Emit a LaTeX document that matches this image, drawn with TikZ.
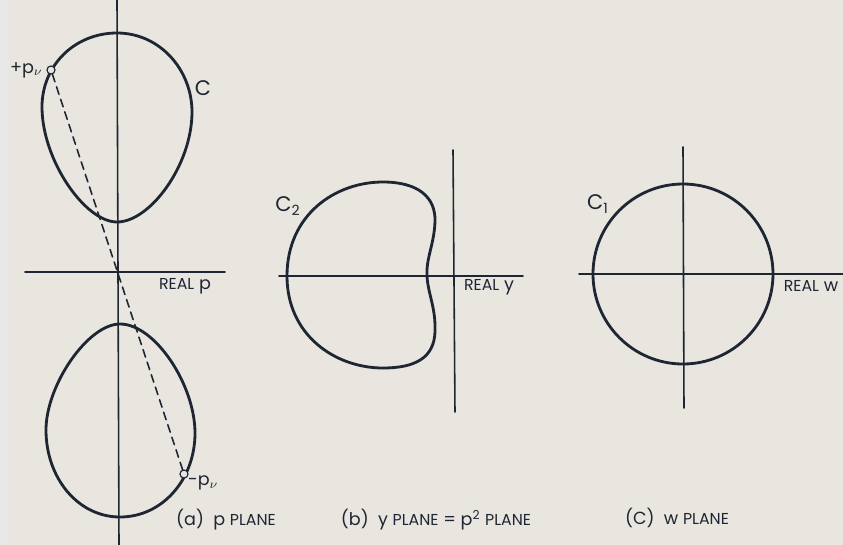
\documentclass[tikz,border=0pt]{standalone}
\usepackage{fontspec}
\setmainfont{Poppins}
\usetikzlibrary{positioning}
\definecolor{paper}{RGB}{233,230,223}
\definecolor{ink}{RGB}{30,38,52}
\tikzset{
  every picture/.append style={line cap=round,line join=round},
  plane axis/.style={ink,line width=0.9pt},
  plane curve/.style={ink,line width=1.6pt},
  plane chord/.style={ink,line width=0.9pt,dash pattern=on 4.5pt off 3pt},
  plane point/.style={circle,draw=ink,fill=paper,line width=0.6pt,inner sep=0pt,minimum size=4.5pt},
  plane note/.style={font=\normalsize,text=ink,inner sep=1pt},
  plane caption/.style={font=\normalsize,text=ink,inner sep=1pt}
}
\begin{document}
\begin{tikzpicture}[x=0.02cm, y=-0.02cm]
  \fill[paper] (0,0) rectangle (843,545);
  \fill[black!9] (0,0) rectangle (9,545);
  \useasboundingbox (0,0) rectangle (843,545);

  % (a) p plane
  \draw[plane axis] (117,0) -- (119,545);
  \draw[plane axis] (25,272) -- (225,272);
  \draw[plane curve] (117,33) .. controls (160,33) and (192,70) .. (192,112)
    .. controls (192,165) and (150,222) .. (117,222)
    .. controls (85,222) and (42,160) .. (42,107)
    .. controls (42,65) and (75,33) .. (117,33);
  \draw[plane curve] (120,324) .. controls (155,324) and (195,385) .. (195,433)
    .. controls (195,480) and (162,517) .. (120,517)
    .. controls (78,517) and (46,478) .. (46,430)
    .. controls (46,385) and (88,324) .. (120,324);
  \node[plane point] (pplus) at (51,70) {};
  \node[plane point] (pminus) at (184,474) {};
  \draw[plane chord] (pplus) -- (pminus);
  \node[plane point] at (pplus) {};
  \node[plane point] at (pminus) {};
  \node[plane note, left=1pt of pplus] (pluslabel) {+p$_\nu$};
  \node[plane note, anchor=west] (minuslabel) at (186,483) {-p$_\nu$};
  \node[plane note, font=\large] (curvec) at (203,88) {C};
  \node[plane note] (realp) at (185,286) {{\small REAL} p};

  % (b) y plane
  \draw[plane axis] (453,150) -- (455,412);
  \draw[plane axis] (279,276) -- (523,276);
  \draw[plane curve] (287,276) .. controls (287,215) and (335,182) .. (383,182)
    .. controls (418,182) and (436,197) .. (435,222)
    .. controls (434,245) and (426,258) .. (427,276)
    .. controls (428,294) and (436,308) .. (435,332)
    .. controls (434,358) and (415,368) .. (383,368)
    .. controls (335,368) and (287,335) .. (287,276);
  \node[plane note, font=\large] (curvec2) at (288,206) {C\textsubscript{2}};
  \node[plane note] (realy) at (489,287) {{\small REAL} y};

  % (c) w plane
  \draw[plane axis] (683,147) -- (684,408);
  \draw[plane axis] (579,274) -- (843,274);
  \draw[plane curve] (683,274) circle (90);
  \node[plane note, font=\large] (curvec1) at (598,204) {C\textsubscript{1}};
  \node[plane note] (realw) at (811,286) {{\small REAL} w};

  % captions
  \node[plane caption] (capa) at (226,520) {(a)\ \ p {\small PLANE}};
  \node[plane caption] (capb) at (436,520) {(b)\ \ y {\small PLANE} = p\textsuperscript{2} {\small PLANE}};
  \node[plane caption] (capc) at (677,518) {(C)\ \ w {\small PLANE}};
\end{tikzpicture}
\end{document}
